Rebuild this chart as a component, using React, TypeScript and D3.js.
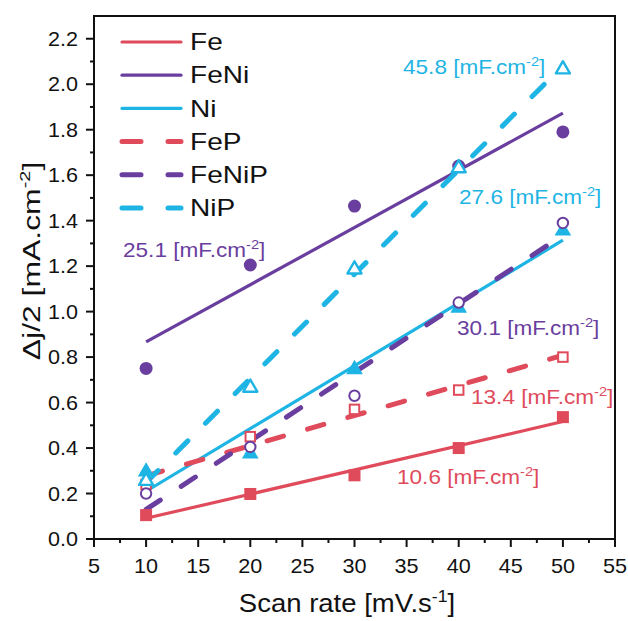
import React from "react";
import * as d3 from "d3";

const scanRates = [10, 20, 30, 40, 50];
const feVals = [0.105, 0.198, 0.28, 0.4, 0.536];
const feNiVals = [0.75, 1.205, 1.464, 1.64, 1.79];
const niVals = [0.3, 0.38, 0.75, 1.02, 1.36];
const fePVals = [0.24, 0.45, 0.57, 0.655, 0.8];
const feNiPVals = [0.2, 0.405, 0.63, 1.04, 1.39];
const niPVals = [0.26, 0.67, 1.19, 1.635, 2.07];

const seriesNames = ["Fe", "FeNi", "Ni", "FeP", "FeNiP", "NiP"];
const capacitances = ["10.6", "25.1", "27.6", "13.4", "30.1", "45.8"];

const xTicks = [5, 10, 15, 20, 25, 30, 35, 40, 45, 50, 55];
const yTicks = [0, 0.2, 0.4, 0.6, 0.8, 1.0, 1.2, 1.4, 1.6, 1.8, 2.0, 2.2];

const RED = "#E04B5C";
const PURPLE = "#6A3E9E";
const CYAN = "#1EB4E4";
const FONT = "'Liberation Sans', Arial, Helvetica, sans-serif";

type Series = {
  name: string;
  vals: number[];
  color: string;
  dashed: boolean;
  marker: "square" | "circle" | "triangle";
  filled: boolean;
  cap: string;
  labelPos: [number, number];
};

const series: Series[] = [
  { name: seriesNames[0], vals: feVals, color: RED, dashed: false, marker: "square", filled: true, cap: capacitances[0], labelPos: [397, 484] },
  { name: seriesNames[1], vals: feNiVals, color: PURPLE, dashed: false, marker: "circle", filled: true, cap: capacitances[1], labelPos: [123, 257] },
  { name: seriesNames[2], vals: niVals, color: CYAN, dashed: false, marker: "triangle", filled: true, cap: capacitances[2], labelPos: [459, 204] },
  { name: seriesNames[3], vals: fePVals, color: RED, dashed: true, marker: "square", filled: false, cap: capacitances[3], labelPos: [471, 404] },
  { name: seriesNames[4], vals: feNiPVals, color: PURPLE, dashed: true, marker: "circle", filled: false, cap: capacitances[4], labelPos: [457, 335] },
  { name: seriesNames[5], vals: niPVals, color: CYAN, dashed: true, marker: "triangle", filled: false, cap: capacitances[5], labelPos: [403, 74] },
];

const x0 = 94, x1 = 615, y0 = 539, y1 = 16;
const xScale = d3.scaleLinear().domain([5, 55]).range([x0, x1]);
const yScale = d3.scaleLinear().domain([0, 2.3]).range([y0, y1]);

function fit(xsArr: number[], ys: number[]) {
  const mx = d3.mean(xsArr)!;
  const my = d3.mean(ys)!;
  let num = 0, den = 0;
  xsArr.forEach((xv, i) => {
    num += (xv - mx) * (ys[i] - my);
    den += (xv - mx) * (xv - mx);
  });
  const slope = num / den;
  return (xv: number) => my + slope * (xv - mx);
}

function Marker({ s, xv, yv }: { s: Series; xv: number; yv: number }) {
  const cx = xScale(xv), cy = yScale(yv);
  const fill = s.filled ? s.color : "white";
  const sw = s.filled ? 0 : 2;
  if (s.marker === "square") {
    const a = s.filled ? 12 : 9.5;
    return <rect x={cx - a / 2} y={cy - a / 2} width={a} height={a} fill={fill} stroke={s.color} strokeWidth={sw} />;
  }
  if (s.marker === "circle") {
    const r = s.filled ? 6.5 : 5.2;
    return <circle cx={cx} cy={cy} r={r} fill={fill} stroke={s.color} strokeWidth={sw} />;
  }
  const sym = d3.symbol().type(d3.symbolTriangle).size(s.filled ? 120 : 85)();
  return <path d={sym!} transform={`translate(${cx},${cy + 1})`} fill={fill} stroke={s.color} strokeWidth={s.filled ? 0 : 2.4} strokeLinejoin="round" />;
}

function CapLabel({ s }: { s: Series }) {
  return (
    <text transform={`translate(${s.labelPos[0]},${s.labelPos[1]}) scale(1.13,1)`} fill={s.color} fontSize={20} fontFamily={FONT}>
      {s.cap} [mF.cm
      <tspan dy={-8} fontSize={13}>-2</tspan>
      <tspan dy={8}>]</tspan>
    </text>
  );
}

export default function App() {
  const minorX = d3.range(7.5, 55, 5);
  const minorY = d3.range(0.1, 2.3, 0.2);
  return (
    <svg width={628} height={621} style={{ position: "absolute", left: 0, top: 0, background: "white" }}>
      {/* frame */}
      <rect x={x0} y={y1} width={x1 - x0} height={y0 - y1} fill="none" stroke="#111" strokeWidth={2} />
      {/* y ticks */}
      {yTicks.map((t) => (
        <g key={"y" + t}>
          <line x1={x0 - 8} x2={x0} y1={yScale(t)} y2={yScale(t)} stroke="#111" strokeWidth={2} />
          <text transform={`translate(${x0 - 16},${yScale(t)}) scale(1.08,1)`} dy="0.36em" textAnchor="end" fontSize={20} fontFamily={FONT} fill="#111">
            {t.toFixed(1)}
          </text>
        </g>
      ))}
      {minorY.map((t) => (
        <line key={"my" + t} x1={x0 - 4} x2={x0} y1={yScale(t)} y2={yScale(t)} stroke="#111" strokeWidth={2} />
      ))}
      {/* x ticks */}
      {xTicks.map((t) => (
        <g key={"x" + t}>
          <line x1={xScale(t)} x2={xScale(t)} y1={y0} y2={y0 + 8} stroke="#111" strokeWidth={2} />
          <text transform={`translate(${xScale(t)},${y0 + 34}) scale(1.08,1)`} textAnchor="middle" fontSize={20} fontFamily={FONT} fill="#111">
            {t}
          </text>
        </g>
      ))}
      {minorX.map((t) => (
        <line key={"mx" + t} x1={xScale(t)} x2={xScale(t)} y1={y0} y2={y0 + 4} stroke="#111" strokeWidth={2} />
      ))}
      {/* axis titles */}
      <text transform="translate(347,612) scale(1.1,1)" textAnchor="middle" fontSize={25} fontFamily={FONT} fill="#111">
        Scan rate [mV.s<tspan dy={-10} fontSize={16}>-1</tspan>
        <tspan dy={10}>]</tspan>
      </text>
      <text transform="translate(40,261) rotate(-90) scale(1.33,1)" textAnchor="middle" fontSize={24} fontFamily={FONT} fill="#111">
        Δj/2 [mA.cm<tspan dy={-10} fontSize={15}>-2</tspan>
        <tspan dy={10}>]</tspan>
      </text>
      {/* fit lines */}
      {series.map((s) => {
        const f = fit(scanRates, s.vals);
        const pts: [number, number][] = [
          [xScale(scanRates[0]), yScale(f(scanRates[0]))],
          [xScale(scanRates[scanRates.length - 1]), yScale(f(scanRates[scanRates.length - 1]))],
        ];
        return (
          <path
            key={"l" + s.name}
            d={d3.line()(pts)!}
            stroke={s.color}
            strokeWidth={s.dashed ? 5 : 3.2}
            strokeDasharray={s.dashed ? "17,25" : undefined}
            strokeLinecap={s.dashed ? "round" : "butt"}
            fill="none"
          />
        );
      })}
      {/* markers */}
      {series.map((s) =>
        s.vals.map((v, i) => <Marker key={s.name + i} s={s} xv={scanRates[i]} yv={v} />)
      )}
      {/* capacitance labels */}
      {series.map((s) => (
        <CapLabel key={"c" + s.name} s={s} />
      ))}
      {/* legend */}
      {series.map((s, i) => {
        const ly = 42 + i * 33.2;
        return (
          <g key={"lg" + s.name}>
            <line
              x1={122}
              x2={181}
              y1={ly}
              y2={ly}
              stroke={s.color}
              strokeWidth={s.dashed ? 5 : 3.2}
              strokeDasharray={s.dashed ? "19,27" : undefined}
              strokeLinecap="round"
            />
            <text transform={`translate(190,${ly}) scale(1.22,1)`} dy="0.36em" fontSize={23} fontFamily={FONT} fill="#111">
              {s.name}
            </text>
          </g>
        );
      })}
    </svg>
  );
}
